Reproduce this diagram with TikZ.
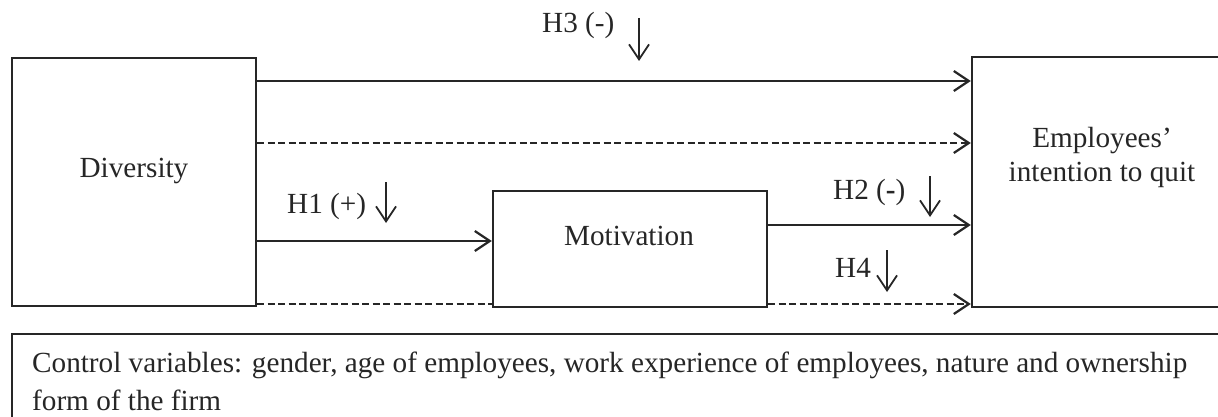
\documentclass[tikz,border=0pt]{standalone}
\usepackage{fontspec}
\setmainfont{Liberation Serif}
\usetikzlibrary{arrows.meta}
\begin{document}
\begin{tikzpicture}[x=1pt,y=-1pt,
  box/.style={draw=black!85,line width=2.4pt,inner sep=0pt},
  lbl/.style={inner sep=0pt,anchor=base,font=\fontsize{29.2}{36}\selectfont,text=black!85},
  conn/.style={draw=black!85,line width=2.2pt,-{Straight Barb[length=15pt,width=20pt,line width=2.2pt]}},
  plain/.style={draw=black!85,line width=2.2pt},
  dsh/.style={dash pattern=on 7pt off 3.5pt},
  hyparrow/.style={draw=black!85,line width=1.8pt,-{Straight Barb[length=15pt,width=20pt,line width=1.8pt]}}
]
\useasboundingbox (0,0) rectangle (1218,417);
\clip (0,0) rectangle (1218,417);
% boxes
\node[box,minimum width=244pt,minimum height=248pt] (div) at (134,182) {};
\node[box,minimum width=274pt,minimum height=116pt] (mot) at (630,249) {};
\node[box,minimum width=260pt,minimum height=250pt] (emp) at (1102,182) {};
\node[box,minimum width=1240pt,minimum height=110pt,anchor=north west] (ctl) at (11,333) {};
% box texts
\node[lbl] (divt) at (134,178) {Diversity};
\node[lbl] (motv) at (629,245) {Motivation};
\node[lbl] (empa) at (1102,148) {Employees’};
\node[lbl] (empb) at (1102,182) {intention to quit};
\node[lbl,anchor=base west] (ctla) at (32,372) {Control variables: gender, age of employees, work experience of employees, nature and ownership};
\node[lbl,anchor=base west] (ctlb) at (32,410) {form of the firm};
% hypothesis labels
\node[lbl,anchor=base west] (h3) at (542,33) {H3 (-)};
\node[lbl,anchor=base west] (h1) at (287,213) {H1 (+)};
\node[lbl,anchor=base west] (h2) at (833,199) {H2 (\textbf{-})};
\node[lbl,anchor=base west] (h4) at (835,277) {H4};
% hypothesis arrows
\coordinate (h3a) at (639,18); \coordinate (h3b) at (639,61);
\coordinate (h1a) at (386,182); \coordinate (h1b) at (386,223);
\coordinate (h2a) at (930,176); \coordinate (h2b) at (930,217);
\coordinate (h4a) at (887,250); \coordinate (h4b) at (887,292);
\draw[hyparrow] (h3a) -- (h3b);
\draw[hyparrow] (h1a) -- (h1b);
\draw[hyparrow] (h2a) -- (h2b);
\draw[hyparrow] (h4a) -- (h4b);
% connectors
\draw[conn] (div.east |- 0,81) -- (emp.west |- 0,81);
\draw[conn,dsh] (div.east |- 0,143) -- (emp.west |- 0,143);
\draw[conn] (div.east |- 0,241) -- (mot.west |- 0,241);
\draw[plain,dsh] (div.east |- 0,304) -- (mot.west |- 0,304);
\draw[conn] (mot.east |- 0,225) -- (emp.west |- 0,225);
\draw[conn,dsh] (mot.east |- 0,304) -- (emp.west |- 0,304);
\end{tikzpicture}
\end{document}
